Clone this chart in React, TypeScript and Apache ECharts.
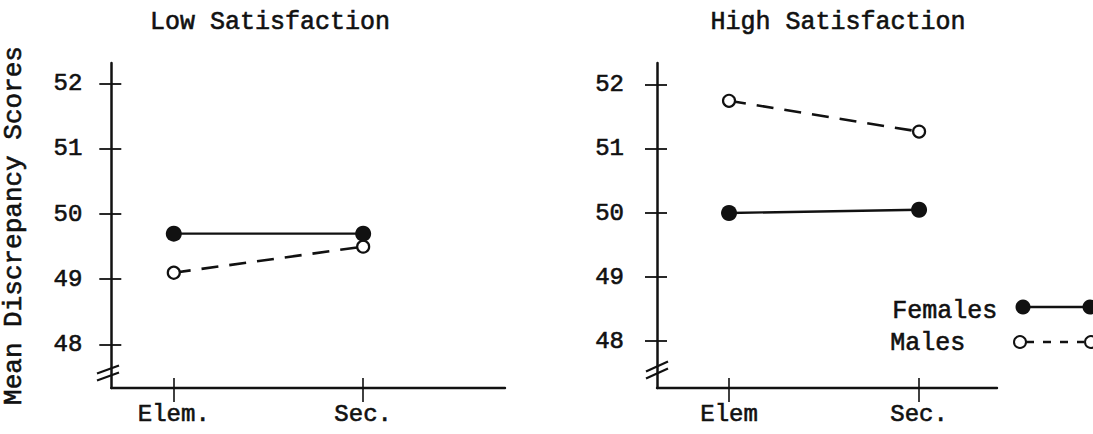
import React, { useEffect, useRef } from 'react';
import * as echarts from 'echarts';

const leftCategories = ['Elem.', 'Sec.'];
const rightCategories = ['Elem', 'Sec.'];
const yTickValues = [48, 49, 50, 51, 52];
const lowFemales = [49.7, 49.7];
const lowMales = [49.1, 49.5];
const highFemales = [50.0, 50.05];
const highMales = [51.75, 51.27];
const panelTitles = ['Low Satisfaction', 'High Satisfaction'];
const legendNames = ['Females', 'Males'];
const yAxisTitle = 'Mean Discrepancy Scores';

const FONT = '"Liberation Mono", "DejaVu Sans Mono", monospace';
const INK = '#111';

export default function App() {
  const ref = useRef<HTMLDivElement>(null);
  useEffect(() => {
    const chart = echarts.init(ref.current!, null, { renderer: 'svg' });
    const W = 1093;
    const H = 434;
    const top = 63;
    const bottomY = 388;
    const panels = [
      { left: 109, right: 505, xmin: 0.67, xmax: 2.749, ymin: 47.33, ymax: 52.32, cats: leftCategories, fem: lowFemales, male: lowMales, title: panelTitles[0], titleX: 270, labelMargin: 29 },
      { left: 657, right: 997, xmin: 0.621, xmax: 2.41, ymin: 47.27, ymax: 52.34, cats: rightCategories, fem: highFemales, male: highMales, title: panelTitles[1], titleX: 838, labelMargin: 33 },
    ];
    const heavy = { textBorderColor: INK, textBorderWidth: 0.6 };
    const textStyle = { fontFamily: FONT, color: INK, fontSize: 24, ...heavy };
    const grid: any[] = [];
    const xAxis: any[] = [];
    const yAxis: any[] = [];
    const series: any[] = [];
    const title: any[] = [];
    panels.forEach((p, i) => {
      grid.push({ left: p.left, right: W - p.right, top, bottom: H - bottomY });
      const catValues = p.cats.map((_, k) => k + 1);
      xAxis.push({
        type: 'value', gridIndex: i, position: 'bottom', min: p.xmin, max: p.xmax,
        axisLine: { show: true, lineStyle: { color: INK, width: 2.4 } },
        axisTick: { show: true, customValues: catValues, length: 14, lineStyle: { color: INK, width: 1.6 } },
        axisLabel: { show: true, customValues: catValues, margin: 14, formatter: (v: number) => p.cats[Math.round(v) - 1] ?? '', ...textStyle },
        splitLine: { show: false },
      });
      xAxis.push({
        type: 'value', gridIndex: i, position: 'bottom', min: p.xmin, max: p.xmax,
        axisLine: { show: false },
        axisTick: { show: true, inside: true, customValues: catValues, length: 10, lineStyle: { color: INK, width: 1.6 } },
        axisLabel: { show: false },
        splitLine: { show: false },
      });
      yAxis.push({
        type: 'value', gridIndex: i, position: 'left', min: p.ymin, max: p.ymax,
        name: i === 0 ? yAxisTitle : '', nameLocation: 'middle', nameGap: 84, nameRotate: 90,
        nameTextStyle: { fontFamily: FONT, color: INK, fontSize: 26, ...heavy },
        axisLine: { show: true, lineStyle: { color: INK, width: 2.5 } },
        axisTick: { show: true, customValues: yTickValues, length: 12, lineStyle: { color: INK, width: 1.8 } },
        axisLabel: { show: true, customValues: yTickValues, margin: p.labelMargin, ...textStyle },
        splitLine: { show: false },
      });
      yAxis.push({
        type: 'value', gridIndex: i, position: 'left', min: p.ymin, max: p.ymax,
        axisLine: { show: false },
        axisTick: { show: true, inside: true, customValues: yTickValues, length: 10, lineStyle: { color: INK, width: 1.8 } },
        axisLabel: { show: false },
        splitLine: { show: false },
      });
      series.push({
        name: legendNames[1], type: 'line', xAxisIndex: 2 * i, yAxisIndex: 2 * i,
        data: p.cats.map((_, k) => [k + 1, p.male[k]]),
        symbol: 'circle', symbolSize: 12,
        itemStyle: { color: '#fff', borderColor: INK, borderWidth: 2.2 },
        lineStyle: { color: INK, width: 2.6, type: [17, 11] },
        z: 3,
      });
      series.push({
        name: legendNames[0], type: 'line', xAxisIndex: 2 * i, yAxisIndex: 2 * i,
        data: p.cats.map((_, k) => [k + 1, p.fem[k]]),
        symbol: 'circle', symbolSize: 16,
        itemStyle: { color: INK },
        lineStyle: { color: INK, width: 2.4, type: 'solid' },
        z: 4,
      });
      title.push({
        text: p.title, left: p.titleX, top: 10, textAlign: 'center', padding: 0,
        textStyle: { fontFamily: FONT, color: INK, fontSize: 25, fontWeight: 'normal', ...heavy },
      });
    });

    const breakMark = (cx: number, cy: number, dx: number, dy: number) => ([
      { type: 'line', shape: { x1: cx - dx, y1: cy - 3.5 + dy, x2: cx + dx, y2: cy - 3.5 - dy }, style: { stroke: INK, lineWidth: 2.2 } },
      { type: 'line', shape: { x1: cx - dx, y1: cy + 3.5 + dy, x2: cx + dx, y2: cy + 3.5 - dy }, style: { stroke: INK, lineWidth: 2.2 } },
    ]);

    const legendFont = `25px ${FONT}`;
    const graphic: any[] = [
      ...breakMark(panels[0].left - 1, 373, 11, 4),
      ...breakMark(panels[1].left, 370, 11, 5),
      { type: 'text', left: 892, top: 299, style: { text: legendNames[0], font: legendFont, fill: INK, stroke: INK, lineWidth: 0.6 } },
      { type: 'text', left: 890, top: 331, style: { text: legendNames[1], font: legendFont, fill: INK, stroke: INK, lineWidth: 0.6 } },
      { type: 'line', shape: { x1: 1023, y1: 307, x2: 1090, y2: 307 }, style: { stroke: INK, lineWidth: 2.4 } },
      { type: 'circle', shape: { cx: 1023, cy: 307, r: 7.5 }, style: { fill: INK } },
      { type: 'circle', shape: { cx: 1090, cy: 307, r: 7.5 }, style: { fill: INK } },
      { type: 'line', shape: { x1: 1026, y1: 342, x2: 1084, y2: 342 }, style: { stroke: INK, lineWidth: 2.4, lineDash: [8, 9] } },
      { type: 'circle', shape: { cx: 1020, cy: 342, r: 6 }, style: { fill: '#fff', stroke: INK, lineWidth: 2 } },
      { type: 'circle', shape: { cx: 1091, cy: 342, r: 6 }, style: { fill: '#fff', stroke: INK, lineWidth: 2 } },
    ];

    chart.setOption({
      animation: false,
      backgroundColor: '#fff',
      title,
      grid,
      xAxis,
      yAxis,
      series,
      graphic,
    });
    return () => chart.dispose();
  }, []);
  return <div ref={ref} style={{ position: 'fixed', left: 0, top: 0, width: 1093, height: 434, background: '#fff' }} />;
}
